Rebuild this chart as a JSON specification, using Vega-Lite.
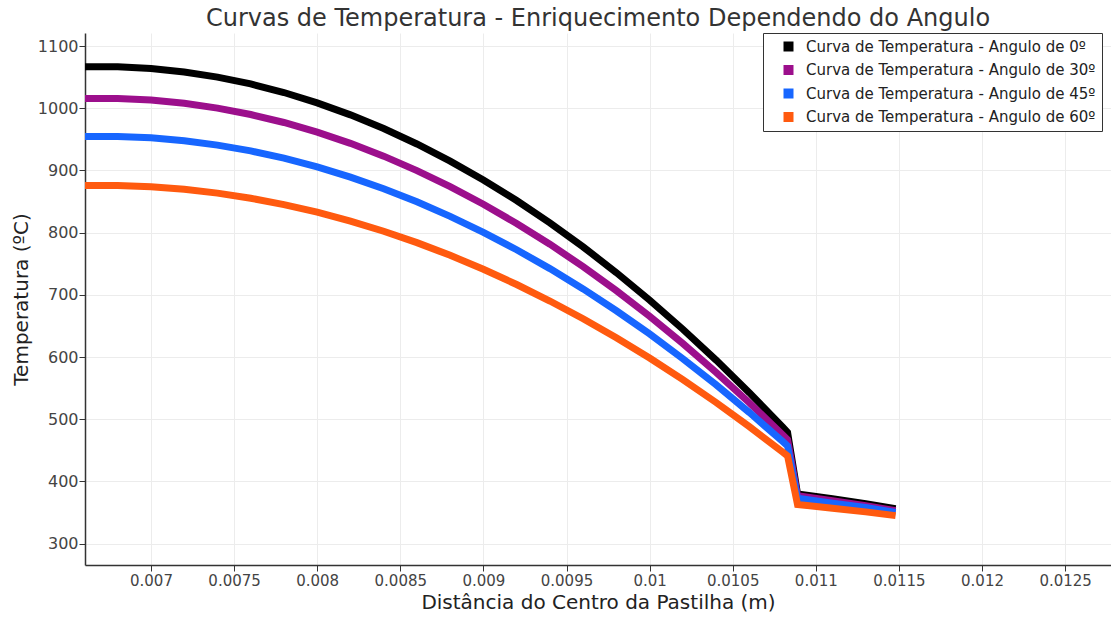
{
  "$schema": "https://vega.github.io/schema/vega-lite/v6.json",
  "width": 1026,
  "height": 532,
  "autosize": {"type": "none"},
  "padding": {"left": 85, "top": 33, "right": 0, "bottom": 52},
  "background": "white",
  "title": {
    "text": "Curvas de Temperatura - Enriquecimento Dependendo do Angulo",
    "anchor": "middle",
    "font": "DejaVu Sans",
    "fontSize": 24,
    "fontWeight": "normal",
    "color": "#333333",
    "offset": 2
  },
  "data": {
    "values": [
      {"x": 0.0066, "Curva de Temperatura - Angulo de 0º": 1066.7, "Curva de Temperatura - Angulo de 30º": 1015.7, "Curva de Temperatura - Angulo de 45º": 954.7, "Curva de Temperatura - Angulo de 60º": 875.7},
      {"x": 0.0068, "Curva de Temperatura - Angulo de 0º": 1066.7, "Curva de Temperatura - Angulo de 30º": 1015.7, "Curva de Temperatura - Angulo de 45º": 954.7, "Curva de Temperatura - Angulo de 60º": 875.7},
      {"x": 0.0070, "Curva de Temperatura - Angulo de 0º": 1063.9, "Curva de Temperatura - Angulo de 30º": 1013.1, "Curva de Temperatura - Angulo de 45º": 952.4, "Curva de Temperatura - Angulo de 60º": 873.7},
      {"x": 0.0072, "Curva de Temperatura - Angulo de 0º": 1058.4, "Curva de Temperatura - Angulo de 30º": 1008.0, "Curva de Temperatura - Angulo de 45º": 947.7, "Curva de Temperatura - Angulo de 60º": 869.6},
      {"x": 0.0074, "Curva de Temperatura - Angulo de 0º": 1050.1, "Curva de Temperatura - Angulo de 30º": 1000.2, "Curva de Temperatura - Angulo de 45º": 940.7, "Curva de Temperatura - Angulo de 60º": 863.5},
      {"x": 0.0076, "Curva de Temperatura - Angulo de 0º": 1039.1, "Curva de Temperatura - Angulo de 30º": 989.9, "Curva de Temperatura - Angulo de 45º": 931.4, "Curva de Temperatura - Angulo de 60º": 855.3},
      {"x": 0.0078, "Curva de Temperatura - Angulo de 0º": 1025.3, "Curva de Temperatura - Angulo de 30º": 977.1, "Curva de Temperatura - Angulo de 45º": 919.7, "Curva de Temperatura - Angulo de 60º": 845.1},
      {"x": 0.0080, "Curva de Temperatura - Angulo de 0º": 1008.7, "Curva de Temperatura - Angulo de 30º": 961.6, "Curva de Temperatura - Angulo de 45º": 905.7, "Curva de Temperatura - Angulo de 60º": 832.9},
      {"x": 0.0082, "Curva de Temperatura - Angulo de 0º": 989.4, "Curva de Temperatura - Angulo de 30º": 943.6, "Curva de Temperatura - Angulo de 45º": 889.3, "Curva de Temperatura - Angulo de 60º": 818.6},
      {"x": 0.0084, "Curva de Temperatura - Angulo de 0º": 967.4, "Curva de Temperatura - Angulo de 30º": 923.0, "Curva de Temperatura - Angulo de 45º": 870.6, "Curva de Temperatura - Angulo de 60º": 802.3},
      {"x": 0.0086, "Curva de Temperatura - Angulo de 0º": 942.6, "Curva de Temperatura - Angulo de 30º": 899.8, "Curva de Temperatura - Angulo de 45º": 849.6, "Curva de Temperatura - Angulo de 60º": 783.9},
      {"x": 0.0088, "Curva de Temperatura - Angulo de 0º": 915.0, "Curva de Temperatura - Angulo de 30º": 874.1, "Curva de Temperatura - Angulo de 45º": 826.2, "Curva de Temperatura - Angulo de 60º": 763.5},
      {"x": 0.0090, "Curva de Temperatura - Angulo de 0º": 884.6, "Curva de Temperatura - Angulo de 30º": 845.7, "Curva de Temperatura - Angulo de 45º": 800.5, "Curva de Temperatura - Angulo de 60º": 741.1},
      {"x": 0.0092, "Curva de Temperatura - Angulo de 0º": 851.6, "Curva de Temperatura - Angulo de 30º": 814.8, "Curva de Temperatura - Angulo de 45º": 772.5, "Curva de Temperatura - Angulo de 60º": 716.6},
      {"x": 0.0094, "Curva de Temperatura - Angulo de 0º": 815.7, "Curva de Temperatura - Angulo de 30º": 781.4, "Curva de Temperatura - Angulo de 45º": 742.2, "Curva de Temperatura - Angulo de 60º": 690.1},
      {"x": 0.0096, "Curva de Temperatura - Angulo de 0º": 777.1, "Curva de Temperatura - Angulo de 30º": 745.3, "Curva de Temperatura - Angulo de 45º": 709.5, "Curva de Temperatura - Angulo de 60º": 661.5},
      {"x": 0.0098, "Curva de Temperatura - Angulo de 0º": 735.7, "Curva de Temperatura - Angulo de 30º": 706.7, "Curva de Temperatura - Angulo de 45º": 674.4, "Curva de Temperatura - Angulo de 60º": 630.9},
      {"x": 0.0100, "Curva de Temperatura - Angulo de 0º": 691.6, "Curva de Temperatura - Angulo de 30º": 665.5, "Curva de Temperatura - Angulo de 45º": 637.1, "Curva de Temperatura - Angulo de 60º": 598.3},
      {"x": 0.0102, "Curva de Temperatura - Angulo de 0º": 644.7, "Curva de Temperatura - Angulo de 30º": 621.7, "Curva de Temperatura - Angulo de 45º": 597.3, "Curva de Temperatura - Angulo de 60º": 563.6},
      {"x": 0.0104, "Curva de Temperatura - Angulo de 0º": 595.1, "Curva de Temperatura - Angulo de 30º": 575.4, "Curva de Temperatura - Angulo de 45º": 555.3, "Curva de Temperatura - Angulo de 60º": 526.9},
      {"x": 0.0106, "Curva de Temperatura - Angulo de 0º": 542.7, "Curva de Temperatura - Angulo de 30º": 526.5, "Curva de Temperatura - Angulo de 45º": 510.9, "Curva de Temperatura - Angulo de 60º": 488.1},
      {"x": 0.0108, "Curva de Temperatura - Angulo de 0º": 487.5, "Curva de Temperatura - Angulo de 30º": 475.0, "Curva de Temperatura - Angulo de 45º": 464.2, "Curva de Temperatura - Angulo de 60º": 447.3},
      {"x": 0.01083, "Curva de Temperatura - Angulo de 0º": 479, "Curva de Temperatura - Angulo de 30º": 467, "Curva de Temperatura - Angulo de 45º": 457, "Curva de Temperatura - Angulo de 60º": 441},
      {"x": 0.01085, "Curva de Temperatura - Angulo de 0º": 446, "Curva de Temperatura - Angulo de 30º": 437, "Curva de Temperatura - Angulo de 45º": 429, "Curva de Temperatura - Angulo de 60º": 415},
      {"x": 0.01087, "Curva de Temperatura - Angulo de 0º": 413, "Curva de Temperatura - Angulo de 30º": 407, "Curva de Temperatura - Angulo de 45º": 401, "Curva de Temperatura - Angulo de 60º": 389},
      {"x": 0.01089, "Curva de Temperatura - Angulo de 0º": 380, "Curva de Temperatura - Angulo de 30º": 377, "Curva de Temperatura - Angulo de 45º": 373, "Curva de Temperatura - Angulo de 60º": 363},
      {"x": 0.0111, "Curva de Temperatura - Angulo de 0º": 372, "Curva de Temperatura - Angulo de 30º": 369, "Curva de Temperatura - Angulo de 45º": 365, "Curva de Temperatura - Angulo de 60º": 357},
      {"x": 0.0113, "Curva de Temperatura - Angulo de 0º": 364, "Curva de Temperatura - Angulo de 30º": 361, "Curva de Temperatura - Angulo de 45º": 358, "Curva de Temperatura - Angulo de 60º": 351},
      {"x": 0.01148, "Curva de Temperatura - Angulo de 0º": 356, "Curva de Temperatura - Angulo de 30º": 353, "Curva de Temperatura - Angulo de 45º": 350, "Curva de Temperatura - Angulo de 60º": 345}
    ]
  },
  "transform": [
    {
      "fold": [
        "Curva de Temperatura - Angulo de 0º",
        "Curva de Temperatura - Angulo de 30º",
        "Curva de Temperatura - Angulo de 45º",
        "Curva de Temperatura - Angulo de 60º"
      ],
      "as": ["serie", "T"]
    }
  ],
  "mark": {"type": "line", "strokeWidth": 7, "strokeCap": "butt", "clip": true},
  "encoding": {
    "x": {
      "field": "x",
      "type": "quantitative",
      "scale": {"domain": [0.006603, 0.012776], "nice": false, "zero": false},
      "axis": {
        "values": [0.007, 0.0075, 0.008, 0.0085, 0.009, 0.0095, 0.01, 0.0105, 0.011, 0.0115, 0.012, 0.0125],
        "format": "~g",
        "labelFontSize": 15,
        "title": "Distância do Centro da Pastilha (m)",
        "titlePadding": 4
      }
    },
    "y": {
      "field": "T",
      "type": "quantitative",
      "scale": {"domain": [265.6, 1121], "nice": false, "zero": false},
      "axis": {
        "values": [300, 400, 500, 600, 700, 800, 900, 1000, 1100],
        "format": "d",
        "labelFontSize": 16,
        "title": "Temperatura (ºC)",
        "titlePadding": 6,
        "labelPadding": 1
      }
    },
    "color": {
      "field": "serie",
      "type": "nominal",
      "scale": {
        "domain": [
          "Curva de Temperatura - Angulo de 0º",
          "Curva de Temperatura - Angulo de 30º",
          "Curva de Temperatura - Angulo de 45º",
          "Curva de Temperatura - Angulo de 60º"
        ],
        "range": ["#000000", "#9c0f8c", "#1766ff", "#ff5a0f"]
      },
      "legend": {
        "orient": "none",
        "legendX": 678,
        "legendY": 0,
        "title": null,
        "symbolType": "square",
        "symbolSize": 100,
        "symbolOffset": 12,
        "labelOffset": 10,
        "labelFont": "DejaVu Sans",
        "labelFontSize": 15,
        "labelColor": "#222222",
        "labelLimit": 400,
        "rowPadding": 7.5,
        "padding": 6,
        "strokeColor": "#333333",
        "fillColor": "#ffffff",
        "encode": {
          "symbols": {
            "update": {
              "fill": {"scale": "color", "field": "value"},
              "strokeWidth": {"value": 0}
            }
          }
        }
      }
    }
  },
  "config": {
    "view": {"stroke": null},
    "axis": {
      "labelFont": "DejaVu Sans",
      "labelColor": "#444444",
      "titleFont": "DejaVu Sans",
      "titleFontSize": 20,
      "titleFontWeight": "normal",
      "titleColor": "#222222",
      "domainColor": "#333333",
      "domainWidth": 1.5,
      "tickColor": "#333333",
      "tickSize": 6,
      "gridColor": "#ececec",
      "gridWidth": 1
    }
  }
}
